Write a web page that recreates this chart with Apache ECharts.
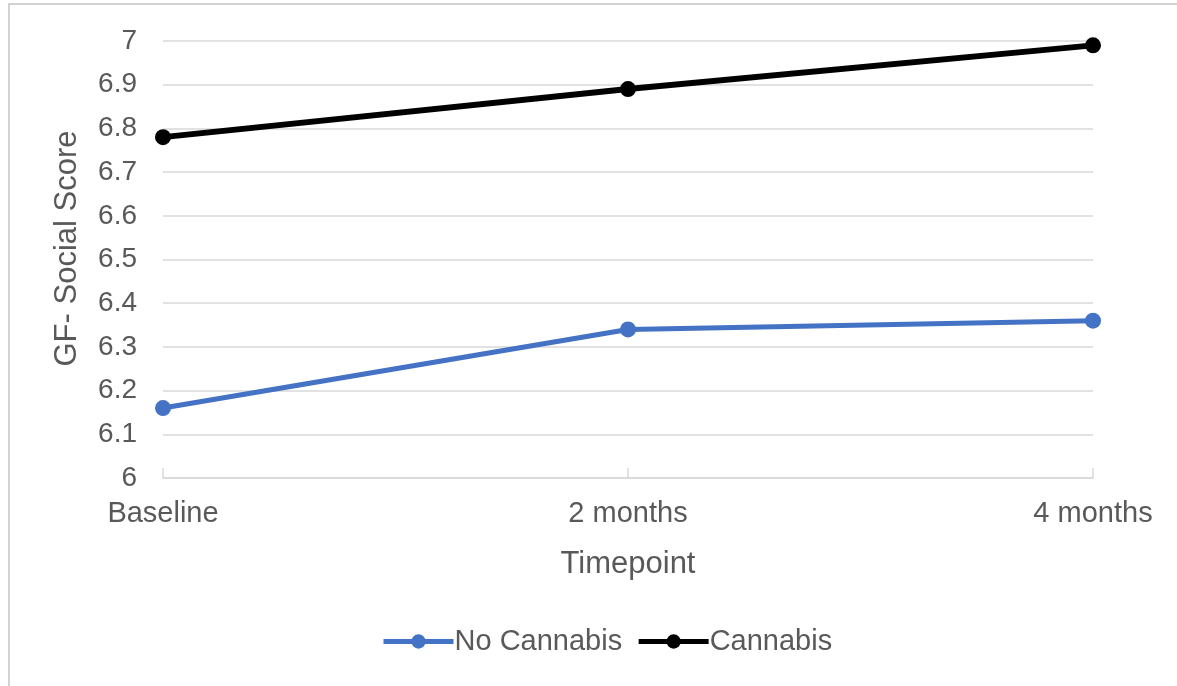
<!DOCTYPE html>
<html>
<head>
<meta charset="utf-8">
<title>GF- Social Score by Timepoint</title>
<script src="https://cdn.jsdelivr.net/npm/echarts@6/dist/echarts.min.js"></script>
<style>
  html, body { margin: 0; padding: 0; background: #ffffff; }
  #chart { width: 1177px; height: 686px; }
</style>
</head>
<body>
<div id="chart"></div>
<script>
// Timepoints along the x axis
const categories = ['Baseline', '2 months', '4 months'];

// Mean GF- Social Score per group
const noCannabis = [6.16, 6.34, 6.36];
const cannabis = [6.78, 6.89, 6.99];

const seriesNames = ['No Cannabis', 'Cannabis'];

const textColor = '#595959';
const gridColor = '#d9d9d9';
const blue = '#4472c4';
const black = '#000000';
const fontFamily = 'Liberation Sans, Arial, Helvetica, sans-serif';

const chart = echarts.init(document.getElementById('chart'), null, { renderer: 'canvas' });

chart.setOption({
  animation: false,
  backgroundColor: '#ffffff',
  textStyle: { fontFamily: fontFamily },
  graphic: [
    {
      // frame around the chart area
      type: 'rect',
      silent: true,
      z: -1,
      shape: { x: 9, y: 4, width: 1400, height: 900 },
      style: { fill: 'none', stroke: '#c4c4c4', lineWidth: 1.5 }
    }
  ],
  grid: { left: 163, right: 84, top: 41, bottom: 208, containLabel: false },
  legend: {
    left: 376,
    top: 622,
    itemWidth: 70,
    itemHeight: 18,
    itemGap: 14,
    lineStyle: { width: 5 },
    textStyle: { color: textColor, fontSize: 29, fontFamily: fontFamily, padding: [0, 0, 0, -4] },
    data: seriesNames
  },
  xAxis: {
    type: 'category',
    data: categories,
    boundaryGap: false,
    name: 'Timepoint',
    nameLocation: 'middle',
    nameGap: 86,
    nameTextStyle: { color: textColor, fontSize: 31, fontFamily: fontFamily, verticalAlign: 'middle' },
    axisLine: { show: true, lineStyle: { color: gridColor, width: 1.5 } },
    axisTick: { show: true, inside: true, length: 10, alignWithLabel: true, lineStyle: { color: gridColor, width: 1.5 } },
    axisLabel: { color: textColor, fontSize: 29, margin: 21, fontFamily: fontFamily },
    splitLine: { show: false }
  },
  yAxis: {
    type: 'value',
    min: 6,
    max: 7,
    interval: 0.1,
    name: 'GF- Social Score',
    nameLocation: 'middle',
    nameGap: 80,
    nameRotate: 90,
    nameTextStyle: { color: textColor, fontSize: 31, fontFamily: fontFamily, padding: [0, 0, 0, 22] },
    axisLine: { show: false },
    axisTick: { show: false },
    axisLabel: {
      color: textColor,
      fontSize: 28,
      margin: 26,
      fontFamily: fontFamily,
      formatter: function (v) { return String(Math.round(v * 10) / 10); }
    },
    splitLine: { show: true, lineStyle: { color: gridColor, width: 1.5 } }
  },
  series: [
    {
      name: seriesNames[0],
      type: 'line',
      data: noCannabis,
      symbol: 'circle',
      symbolSize: 16,
      lineStyle: { color: blue, width: 5 },
      itemStyle: { color: blue },
      z: 3
    },
    {
      name: seriesNames[1],
      type: 'line',
      data: cannabis,
      symbol: 'circle',
      symbolSize: 16,
      lineStyle: { color: black, width: 6 },
      itemStyle: { color: black },
      z: 4
    }
  ]
});
</script>
</body>
</html>
